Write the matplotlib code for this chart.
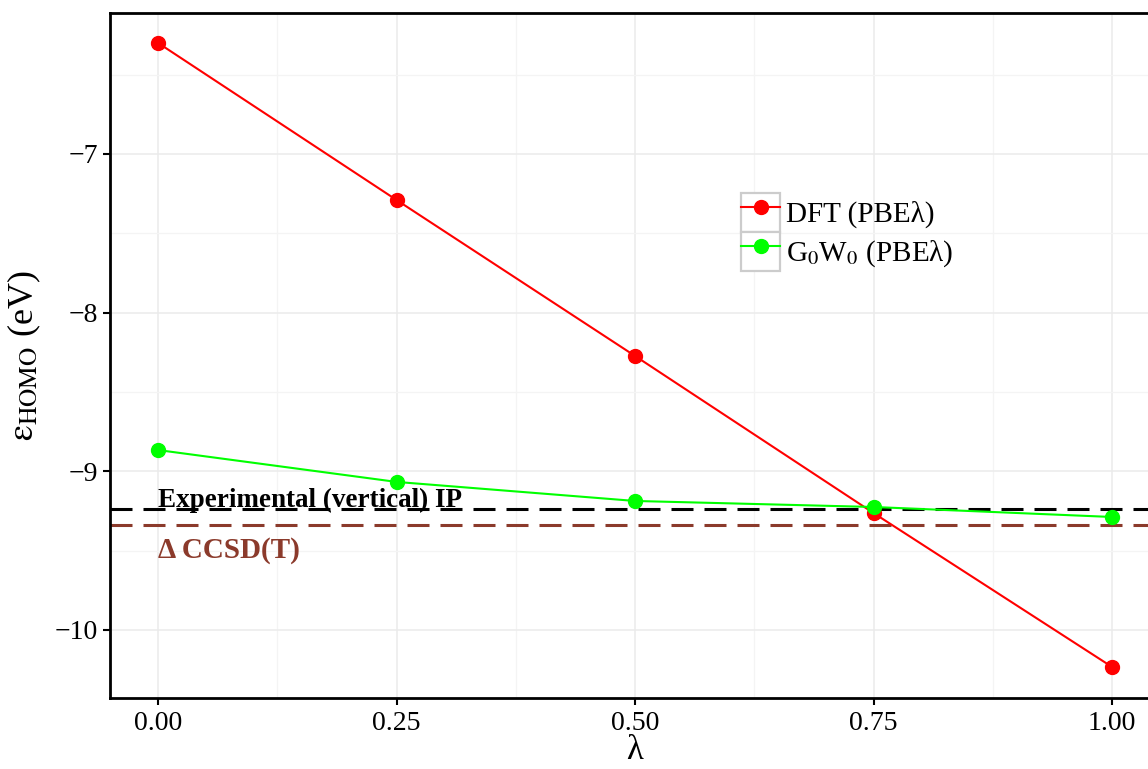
import matplotlib
matplotlib.use("Agg")
import matplotlib.pyplot as plt
from matplotlib.legend_handler import HandlerLine2D
from matplotlib.patches import Rectangle
from matplotlib.ticker import MultipleLocator

plt.rcParams['font.family'] = ['Liberation Serif', 'DejaVu Serif']
plt.rcParams['mathtext.fontset'] = 'stix'

# Mixing parameter lambda and HOMO energies (eV)
lam = [0.00, 0.25, 0.50, 0.75, 1.00]
dft_homo = [-6.30, -7.29, -8.273, -9.263, -10.233]
g0w0_homo = [-8.866, -9.067, -9.187, -9.225, -9.288]

exp_ip = -9.237
ccsdt_ip = -9.338

x_ticks = [0.00, 0.25, 0.50, 0.75, 1.00]
x_ticklabels = ['0.00', '0.25', '0.50', '0.75', '1.00']
y_ticks = [-7, -8, -9, -10]
y_ticklabels = ['\u22127', '\u22128', '\u22129', '\u221210']

brown = '#8B3A2B'


class BoxedLineHandler(HandlerLine2D):
    """Legend key drawn inside a light grey outlined box."""
    def create_artists(self, legend, orig_handle, xdescent, ydescent,
                       width, height, fontsize, trans):
        arts = super().create_artists(legend, orig_handle, xdescent, ydescent,
                                      width, height, fontsize, trans)
        box = Rectangle((-xdescent, -ydescent), width, height,
                        facecolor='white', edgecolor='#CCCCCC', lw=1.6,
                        transform=trans)
        return [box] + list(arts)


fig = plt.figure(figsize=(11.48, 7.69), dpi=100)
ax = fig.add_axes([0.0961, 0.0921, 0.9141, 0.8913])

ax.set_xlim(-0.05, 1.05)
ax.set_ylim(-10.43, -6.11)

# grid
ax.xaxis.set_major_locator(plt.FixedLocator(x_ticks))
ax.yaxis.set_major_locator(plt.FixedLocator(y_ticks))
ax.xaxis.set_minor_locator(MultipleLocator(0.125))
ax.yaxis.set_minor_locator(MultipleLocator(0.5))
ax.grid(which='major', color='#EBEBEB', lw=1.1, zorder=0)
ax.grid(which='minor', color='#F4F4F4', lw=0.9, zorder=0)
ax.set_axisbelow(True)

# reference lines
ax.axhline(exp_ip, color='black', lw=2.2, dashes=(7.2, 3.6), zorder=2)
ax.axhline(ccsdt_ip, color=brown, lw=2.2, dashes=(7.2, 3.6), zorder=2)

ax.text(0.0, exp_ip + 0.012, 'Experimental (vertical) IP', ha='left',
        va='baseline', fontsize=19.5, fontweight='bold', color='black',
        zorder=3)
ax.text(0.0, ccsdt_ip - 0.075, '\u0394 CCSD(T)', ha='left', va='top',
        fontsize=21, fontweight='bold', color=brown, zorder=3)

# data series
l1, = ax.plot(lam, dft_homo, color='#FF0000', lw=1.5, marker='o', ms=10,
              label='DFT (PBE\u03bb)', zorder=4)
l2, = ax.plot(lam, g0w0_homo, color='#00FF00', lw=1.5, marker='o', ms=10,
              label='G$_0$W$_0$ (PBE\u03bb)', zorder=4)

ax.set_xticks(x_ticks)
ax.set_xticklabels(x_ticklabels)
ax.set_yticks(y_ticks)
ax.set_yticklabels(y_ticklabels)
ax.tick_params(which='major', direction='out', length=5, width=1.5,
               color='black', labelsize=20, labelcolor='black', pad=4)
ax.tick_params(which='minor', length=0)

for side in ['left', 'bottom', 'top']:
    ax.spines[side].set_color('black')
    ax.spines[side].set_linewidth(2.0)
ax.spines['right'].set_visible(False)

ax.set_xlabel('\u03bb', fontsize=25, labelpad=-1)
ax.set_ylabel('$\\mathrm{\u03b5}_{\\mathrm{HOMO}}$ (eV)', fontsize=26,
              labelpad=8)

leg = ax.legend(handles=[l1, l2], loc='upper left',
                bbox_to_anchor=(741 / 1148, 1 - 193 / 769),
                bbox_transform=fig.transFigure, frameon=False,
                fontsize=21, handlelength=1.34, handleheight=1.68,
                labelspacing=0.0, borderpad=0.0, borderaxespad=0.0,
                handletextpad=0.2, numpoints=1,
                handler_map={l1: BoxedLineHandler(), l2: BoxedLineHandler()})

fig.savefig('out.png', dpi=100, facecolor='white')
